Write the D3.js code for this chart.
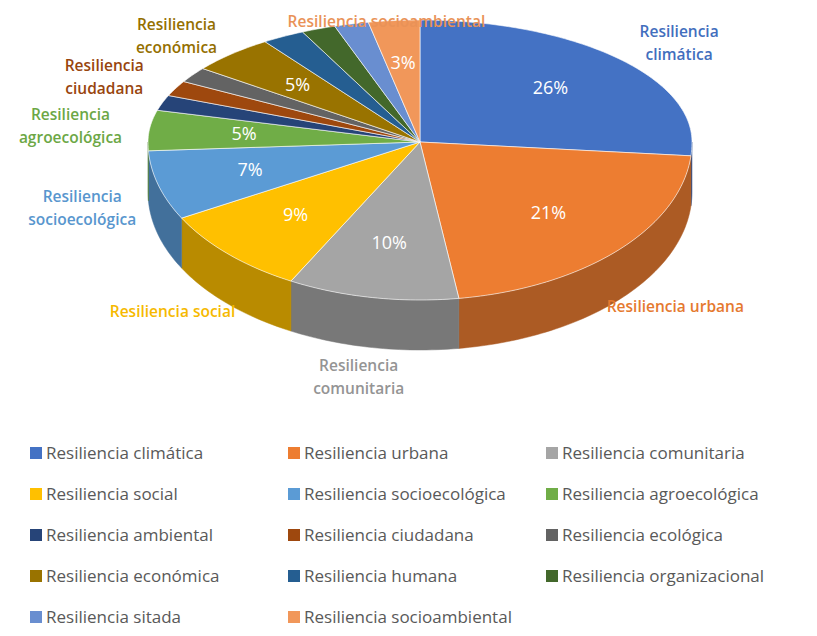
<!DOCTYPE html><html><head><meta charset="utf-8">
<script src="https://cdn.jsdelivr.net/npm/d3@7"></script>
<style>body{margin:0;background:#fff}</style></head><body>
<svg id="c" width="817" height="636"></svg>
<script>
const categories=["Resiliencia climática","Resiliencia urbana","Resiliencia comunitaria","Resiliencia social","Resiliencia socioecológica","Resiliencia agroecológica","Resiliencia ambiental","Resiliencia ciudadana","Resiliencia ecológica","Resiliencia económica","Resiliencia humana","Resiliencia organizacional","Resiliencia sitada","Resiliencia socioambiental"];
const values=[26,21,10,9,7,5,2,2,2,5,2.5,2,2,3];
const colors=["#4472C4","#ED7D31","#A5A5A5","#FFC000","#5B9BD5","#70AD47","#264478","#9E480E","#636363","#997300","#255E91","#43682B","#698ED0","#F1975A"];
const showPct=[1,1,1,1,1,1,0,0,0,1,0,0,0,1];
const outerLabels={0:["Resiliencia","climática"],1:["Resiliencia urbana"],2:["Resiliencia","comunitaria"],3:["Resiliencia social"],4:["Resiliencia","socioecológica"],5:["Resiliencia","agroecológica"],7:["Resiliencia","ciudadana"],9:["Resiliencia","económica"],13:["Resiliencia socioambiental"]};
const svg=d3.select("#c");
const cx=420,cy=142,rx=272,ryT=122,ryB=158,depth=50;
const pie=d3.pie().sort(null).value(d=>d)(values);
const P=(a,k=1,dy=0)=>{const c=Math.cos(a);return [cx+rx*k*Math.sin(a),cy-(c>0?ryT:ryB)*k*c+dy];};
function arcPts(a0,a1,k=1,dy=0){const n=Math.max(2,Math.ceil((a1-a0)/0.02));return d3.range(n+1).map(i=>P(a0+(a1-a0)*i/n,k,dy));}
const line=d3.line();
pie.forEach((s,i)=>{
  const a0=Math.max(s.startAngle,Math.PI/2),a1=Math.min(s.endAngle,3*Math.PI/2);
  if(a1<=a0)return;
  const top=arcPts(a0,a1),bot=arcPts(a0,a1,1,depth).reverse();
  const dc=d3.color(colors[i]).darker(0.9);
  svg.append("path").attr("d",line(top.concat(bot))+"Z").attr("fill",dc).attr("stroke",dc).attr("stroke-width",0.5);
});
pie.forEach((s,i)=>{
  svg.append("path").attr("d",line([[cx,cy]].concat(arcPts(s.startAngle,s.endAngle)))+"Z").attr("fill",colors[i]).attr("stroke","#fff").attr("stroke-width",0.6);
});
pie.forEach((s,i)=>{
  if(!showPct[i])return;const m=(s.startAngle+s.endAngle)/2;const [x,y]=P(m,0.65);
  svg.append("text").attr("x",x).attr("y",y+6).attr("text-anchor","middle").attr("fill","#fff").attr("font-family","Open Sans").attr("font-size",18).text(Math.round(values[i]/d3.sum(values)*100)+"%");
});
pie.forEach((s,i)=>{
  const L=outerLabels[i];if(!L)return;const m=(s.startAngle+s.endAngle)/2;
  let [x,y]=P(m,1.2);if(Math.cos(m)<0)y+=depth*(-Math.cos(m));
  x+=Math.sin(m)*25;
  y=Math.max(y,22+(L.length-1)*10);
  const t=svg.append("text").attr("text-anchor","middle").attr("fill",d3.color(colors[i]).darker(i==2?0.3:0.1)).attr("font-family","Open Sans").attr("font-weight",600).attr("font-size",15.5);
  L.forEach((l,j)=>t.append("tspan").attr("x",x).attr("y",y+(j-(L.length-1)/2)*23+5).text(l));
});
categories.forEach((c,i)=>{
  const col=i%3,row=Math.floor(i/3);const x=30+col*258,y=453+row*41;
  svg.append("rect").attr("x",x).attr("y",y-6).attr("width",12).attr("height",12).attr("fill",colors[i]);
  svg.append("text").attr("x",x+16).attr("y",y+6).attr("fill","#595959").attr("font-family","Open Sans").attr("font-size",17).text(c);
});
</script></body></html>
